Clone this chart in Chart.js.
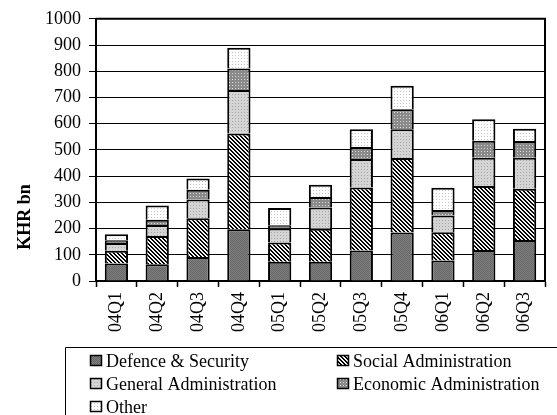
<!DOCTYPE html>
<html>
<head>
<meta charset="utf-8">
<script src="https://cdn.jsdelivr.net/npm/chart.js@4.4.1/dist/chart.umd.min.js"></script>
<style>
    html, body { margin: 0; padding: 0; background: #fff; }
    #wrap { width: 557px; height: 415px; position: relative; }
</style>
</head>
<body>
<div id="wrap"><canvas id="chart" width="557" height="415"></canvas></div>
<script>
// Datos (KHR bn por trimestre)
const quarters = ['04Q1', '04Q2', '04Q3', '04Q4', '05Q1', '05Q2', '05Q3', '05Q4', '06Q1', '06Q2', '06Q3'];
const defence  = [67, 64, 92, 197, 73, 73, 116, 185, 78, 118, 156];
const social   = [48, 108, 147, 366, 74, 126, 241, 284, 108, 244, 196];
const general  = [30, 42, 72, 165, 53, 81, 108, 110, 64, 108, 118];
const economic = [10, 20, 37, 82, 13, 40, 46, 76, 21, 65, 64];
const other    = [23, 54, 43, 80, 65, 47, 68, 90, 85, 82, 47];
const seriesNames = ['Defence & Security', 'Social Administration', 'General Administration', 'Economic Administration', 'Other'];
const yTicks = [0, 100, 200, 300, 400, 500, 600, 700, 800, 900, 1000];
const yTitle = 'KHR bn';

const FONT = "'Liberation Serif', 'Times New Roman', serif";

// Tramas de relleno tipo Excel
function makePattern(size, bg, fg, test) {
    const c = document.createElement('canvas');
    c.width = size;
    c.height = size;
    const g = c.getContext('2d');
    g.fillStyle = bg;
    g.fillRect(0, 0, size, size);
    g.fillStyle = fg;
    for (let y = 0; y < size; y++) {
        for (let x = 0; x < size; x++) {
            if (test(x, y)) g.fillRect(x, y, 1, 1);
        }
    }
    return g.createPattern(c, 'repeat');
}

const patterns = [
    makePattern(2, '#7e7e7e', '#686868', (x, y) => x === y),
    makePattern(4, '#f4f4f4', '#000000', (x, y) => ((x - y + 8) % 4) < 2),
    makePattern(3, '#d4d4d4', '#a6a6a6', (x, y) => x === 1 && y === 1),
    makePattern(3, '#8a8a8a', '#d8d8d8', (x, y) => x === 1 && y === 1),
    makePattern(3, '#ffffff', '#c6c6c6', (x, y) => x === 1 && y === 1)
];

const seriesData = [defence, social, general, economic, other];

const datasets = seriesData.map((values, i) => ({
    label: seriesNames[i],
    data: values,
    backgroundColor: patterns[i],
    borderColor: '#000',
    borderWidth: 2,
    barPercentage: 0.57,
    categoryPercentage: 1
}));

// Título del eje Y y marco del área de trazado
const framePlugin = {
    id: 'frame',
    afterDraw(chart) {
        const { ctx, chartArea } = chart;
        ctx.save();
        ctx.strokeStyle = '#000';
        ctx.lineWidth = 2;
        ctx.beginPath();
        ctx.moveTo(chartArea.left, chartArea.top);
        ctx.lineTo(chartArea.right, chartArea.top);
        ctx.lineTo(chartArea.right, chartArea.bottom);
        ctx.stroke();

        ctx.translate(25, 217);
        ctx.rotate(-Math.PI / 2);
        ctx.font = 'bold 18px ' + FONT;
        ctx.fillStyle = '#000';
        ctx.textAlign = 'center';
        ctx.textBaseline = 'middle';
        ctx.fillText(yTitle, 0, 0);
        ctx.restore();
    }
};

// Leyenda en dos columnas con recuadro
const legendPlugin = {
    id: 'boxLegend',
    afterDraw(chart) {
        const { ctx } = chart;
        ctx.save();
        ctx.strokeStyle = '#000';
        ctx.lineWidth = 1;
        ctx.beginPath();
        ctx.moveTo(65.5, 415);
        ctx.lineTo(65.5, 347.5);
        ctx.lineTo(557, 347.5);
        ctx.stroke();

        const cols = [90, 337];
        const rows = [361, 384, 407];
        ctx.font = '18px ' + FONT;
        ctx.textBaseline = 'middle';
        ctx.textAlign = 'left';
        seriesNames.forEach((name, i) => {
            const x = cols[i % 2];
            const y = rows[Math.floor(i / 2)];
            ctx.fillStyle = patterns[i];
            ctx.fillRect(x, y - 6, 12, 11);
            ctx.strokeStyle = '#000';
            ctx.lineWidth = 1.5;
            ctx.strokeRect(x + 0.5, y - 5.5, 11, 10);
            ctx.fillStyle = '#000';
            ctx.fillText(name, x + 16, y + 1);
        });
        ctx.restore();
    }
};

new Chart(document.getElementById('chart'), {
    type: 'bar',
    data: {
        labels: quarters,
        datasets: datasets
    },
    options: {
        responsive: false,
        animation: false,
        layout: {
            padding: { top: 17, right: 12, bottom: 74, left: 0 }
        },
        plugins: {
            legend: { display: false },
            tooltip: { enabled: false }
        },
        scales: {
            x: {
                stacked: true,
                grid: {
                    offset: true,
                    drawOnChartArea: false,
                    color: '#000',
                    tickLength: 6,
                    tickWidth: 1.5
                },
                border: { color: '#000', width: 2 },
                ticks: {
                    color: '#000',
                    font: { family: FONT, size: 18 },
                    minRotation: 90,
                    maxRotation: 90,
                    padding: 5
                },
                afterFit(scale) {
                    scale.height = 60;
                }
            },
            y: {
                stacked: true,
                min: 0,
                max: 1000,
                afterBuildTicks(scale) {
                    scale.ticks = yTicks.map(v => ({ value: v }));
                },
                grid: {
                    color: '#000',
                    lineWidth: 1,
                    tickLength: 7
                },
                border: { color: '#000', width: 2 },
                ticks: {
                    color: '#000',
                    font: { family: FONT, size: 18 },
                    padding: 8,
                    callback: (value) => String(value)
                },
                afterFit(scale) {
                    scale.width = 96;
                }
            }
        }
    },
    plugins: [framePlugin, legendPlugin]
});
</script>
</body>
</html>
